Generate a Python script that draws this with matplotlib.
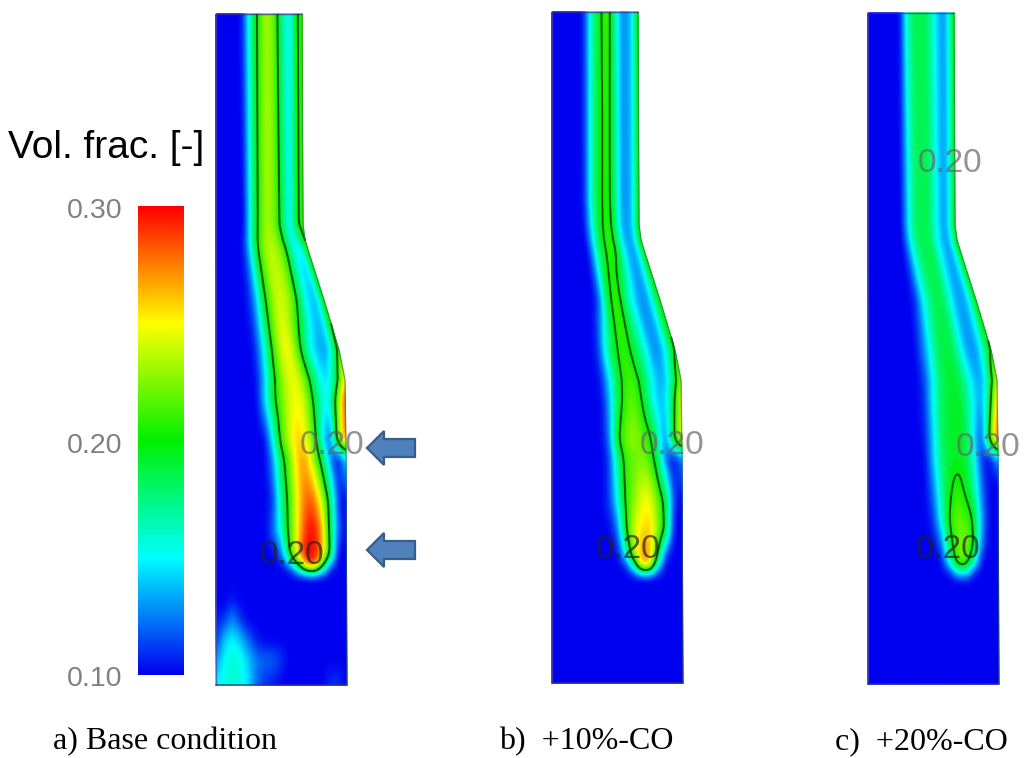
import numpy as np
import matplotlib
matplotlib.use('Agg')
import matplotlib.pyplot as plt
from matplotlib.colors import LinearSegmentedColormap
from matplotlib.patches import FancyArrow, Rectangle

# outline of the duct: (row, right wall offset from left wall), same for all cases
wall_y = [0, 225, 240, 250, 275, 300, 350, 380, 450, 700]
wall_w = [86, 87, 89, 92, 100, 108, 123, 129, 130, 131]

# vol. fraction in %, rows along the duct, 17 columns across the local width
a_y = [14, 225, 250, 300, 350, 400, 440, 458, 500, 530, 555, 568, 576, 600, 620, 640, 660, 685]
a_vals = [
    [10, 10, 10, 10, 10, 11, 15, 18.5, 21, 23, 23, 21.5, 18, 15.5, 15.5, 20, 21],
    [10, 10, 10, 10, 10, 10, 14, 18, 21, 23, 23, 22, 19, 16, 15.5, 20, 21],
    [10, 10, 10, 10, 10, 11, 15, 19, 22, 23.5, 23.5, 23, 21, 17, 15, 15, 20.5],
    [10, 10, 10, 10, 10, 11, 14, 19, 22, 24, 24, 23, 20, 16, 14, 14, 20.5],
    [10, 10, 10, 10, 10, 10.5, 14, 19, 23, 25, 24, 20, 16, 14, 13, 15, 22],
    [10, 10, 10, 10, 10, 10, 14, 19, 22, 24, 25, 24, 20, 16, 15, 22, 29],
    [10, 10, 10, 10, 10, 10, 10, 15, 21, 24, 26, 25, 22, 16, 11, 22, 28],
    [10, 10, 10, 10, 10, 10, 10, 13, 19, 22, 26, 27, 23, 19, 13, 10, 15],
    [10, 10, 10, 10, 10, 10, 10, 11, 17, 21, 25, 28, 28, 24, 19, 11, 10],
    [10, 10, 10, 10, 10, 10, 10, 12, 16, 21, 25, 29, 30, 27, 19, 12, 10],
    [10, 10, 10, 10, 10, 10, 10, 10, 12, 20, 26, 30, 30, 27, 20, 10, 10],
    [10, 10, 10, 10, 10, 10, 10, 10, 10, 11, 17, 26, 29, 20, 11, 10, 10],
    [10, 10, 10, 10, 10, 10, 10, 10, 10, 10, 10, 10, 10, 10, 10, 10, 10],
    [10, 10, 10.5, 10, 10, 10, 10, 10, 10, 10, 10, 10, 10, 10, 10, 10, 10],
    [10.5, 11, 13, 11, 10, 10, 10, 10, 10, 10, 10, 10, 10, 10, 10, 10, 10],
    [11, 14, 15, 14, 12, 10.5, 10, 10, 10, 10, 10, 10, 10, 10, 10, 10, 10],
    [13, 15, 16, 15.5, 14, 12.5, 12, 12, 11, 10, 10, 10, 10, 10, 10, 10, 10],
    [15, 15.5, 16, 15.5, 14.5, 12, 11, 10.5, 10, 10, 10, 10, 10, 10, 11, 11, 10],
]

b_y = [12, 120, 200, 250, 300, 350, 400, 440, 458, 500, 530, 555, 568, 576, 683]
b_vals = [
    [10, 10, 10, 10, 10, 10, 11, 15, 18, 19.6, 21.5, 19.6, 16, 13, 13, 15, 20.5],
    [10, 10, 10, 10, 10, 10, 11, 15, 18, 19.6, 21, 19.6, 16, 13, 13, 15, 20.5],
    [10, 10, 10, 10, 10, 10, 11, 15, 18, 19.8, 20.8, 19.7, 16, 13, 13, 15, 20.5],
    [10, 10, 10, 10, 10, 10, 10, 13, 17, 19.5, 20.9, 20.6, 17, 14, 13, 15, 20.5],
    [10, 10, 10, 10, 10, 10, 10, 12, 18, 20.8, 20.8, 17, 15, 13, 13, 16, 20.5],
    [10, 10, 10, 10, 10, 10, 11, 16, 19, 21, 20.5, 18, 16, 13, 13, 16, 21],
    [10, 10, 10, 10, 10, 10, 10, 13, 18, 21, 22, 20.5, 17, 14, 14, 19, 25],
    [10, 10, 10, 10, 10, 10, 10, 12, 19.5, 22, 23, 22, 21, 17, 12, 20, 25],
    [10, 10, 10, 10, 10, 10, 10, 11, 17, 21, 22, 22.5, 21.5, 18.5, 12, 10, 13],
    [10, 10, 10, 10, 10, 10, 10, 11, 15, 20.5, 22.5, 24.5, 25, 22, 19, 11, 10],
    [10, 10, 10, 10, 10, 10, 10, 10, 12, 19.5, 24, 25.5, 26, 23, 19.5, 10, 10],
    [10, 10, 10, 10, 10, 10, 10, 10, 10, 15, 23, 27, 27, 20, 11, 10, 10],
    [10, 10, 10, 10, 10, 10, 10, 10, 10, 10, 15, 26, 26, 14, 10, 10, 10],
    [10, 10, 10, 10, 10, 10, 10, 10, 10, 10, 10, 10, 10, 10, 10, 10, 10],
    [10, 10, 10, 10, 10, 10, 10, 10, 10, 10, 10, 10, 10, 10, 10, 10, 10],
]

c_y = [13, 230, 300, 350, 400, 440, 458, 485, 520, 545, 562, 572, 580, 684]
c_vals = [
    [10, 10, 10, 10, 10, 10, 10.5, 15, 17.5, 18.5, 18.5, 18, 16, 14, 13, 15, 20.5],
    [10, 10, 10, 10, 10, 10, 10, 13, 16.5, 18, 18.5, 18.5, 16.5, 14.5, 13, 15, 20.5],
    [10, 10, 10, 10, 10, 10, 10, 11, 14.5, 17, 18.5, 18.5, 16, 13.5, 13, 15, 20.5],
    [10, 10, 10, 10, 10, 10, 10, 12, 15, 18, 19, 18.5, 15.5, 13, 13, 16, 21],
    [10, 10, 10, 10, 10, 10, 10, 11, 15, 18, 19, 19.5, 18, 15, 13, 18, 27],
    [10, 10, 10, 10, 10, 10, 10, 10.5, 14, 18, 19, 19.5, 19, 15, 11, 21, 29],
    [10, 10, 10, 10, 10, 10, 10, 10, 14, 17.5, 19, 19.5, 19, 16, 11, 10, 14],
    [10, 10, 10, 10, 10, 10, 10, 10, 12.5, 17, 19.5, 20.8, 19.5, 17, 12, 10, 10],
    [10, 10, 10, 10, 10, 10, 10, 10, 11, 15.5, 20.5, 22, 21.5, 20, 13, 10, 10],
    [10, 10, 10, 10, 10, 10, 10, 10, 10, 12, 19, 22, 22.5, 20.5, 12, 10, 10],
    [10, 10, 10, 10, 10, 10, 10, 10, 10, 10, 16, 22, 22, 17, 10, 10, 10],
    [10, 10, 10, 10, 10, 10, 10, 10, 10, 10, 10.5, 16, 17, 11, 10, 10, 10],
    [10, 10, 10, 10, 10, 10, 10, 10, 10, 10, 10, 10, 10, 10, 10, 10, 10],
    [10, 10, 10, 10, 10, 10, 10, 10, 10, 10, 10, 10, 10, 10, 10, 10, 10],
]

cbar_ticks = [0.30, 0.20, 0.10]
captions = ['a) Base condition', 'b)  +10%-CO', 'c)  +20%-CO']
contour_label = '0.20'

cmap = LinearSegmentedColormap.from_list('cfd', ['#0000f0', '#00ffff', '#00f000', '#ffff00', '#ff0000'])


def blur(f, n, axis):
    # moving average, edges kept by repeating the last value
    pad = [(0, 0), (0, 0)]
    pad[axis] = (n, n)
    g = np.pad(f, pad, mode='edge')
    k = np.ones(2 * n + 1) / (2 * n + 1)
    return np.apply_along_axis(lambda r: np.convolve(r, k, mode='valid'), axis, g)


def draw_case(ax, left, rows, vals):
    vals = np.array(vals, dtype=float) / 100.0
    s_c = np.linspace(0, 1, vals.shape[1])
    y = np.arange(rows[0], rows[-1] + 1.0, 1.0)
    s = np.linspace(0, 1, 129)
    f = np.stack([np.interp(y, rows, vals[:, j]) for j in range(vals.shape[1])], axis=1)
    f = np.stack([np.interp(s, s_c, r) for r in f])
    for i in range(2):
        f = blur(f, 3, 1)
        f = blur(f, 6, 0)
    w = np.interp(y, wall_y, wall_w)
    X = left + np.outer(w, s)
    Y = np.outer(y, np.ones_like(s))
    ax.pcolormesh(X, Y, f, cmap=cmap, vmin=0.10, vmax=0.30, shading='gouraud', zorder=2)
    ax.contour(X, Y, f, levels=[0.20], colors='#0b5a12', linewidths=1.4, zorder=3)
    # thin soft border of the domain
    ax.plot(X[:, 0], y, color='#4a4aa8', lw=1.0, alpha=0.7, zorder=3)
    ax.plot(X[0], Y[0], color='#30309a', lw=1.0, alpha=0.7, zorder=3)
    ax.plot(X[-1], Y[-1], color='#30309a', lw=1.2, alpha=0.8, zorder=3)
    ax.plot(X[:, -1], y, color='#2f6f40', lw=0.9, alpha=0.6, zorder=3)


fig = plt.figure(figsize=(10.25, 7.58), dpi=100)
ax = fig.add_axes([0, 0, 1, 1])
ax.set_xlim(0, 1025)
ax.set_ylim(758, 0)
ax.axis('off')

draw_case(ax, 216, a_y, a_vals)
draw_case(ax, 552, b_y, b_vals)
draw_case(ax, 868, c_y, c_vals)

# colour bar
grad = np.linspace(0.30, 0.10, 256).reshape(-1, 1)
ax.imshow(grad, cmap=cmap, vmin=0.10, vmax=0.30, extent=(138, 184, 675, 206), aspect='auto', zorder=2)
ax.set_xlim(0, 1025)
ax.set_ylim(758, 0)
for v, yy in zip(cbar_ticks, [211, 446, 679]):
    ax.text(122, yy, f'{v:.2f}', ha='right', va='center', fontsize=20.5, color='#808080',
            family='Liberation Sans')

ax.text(8, 148, 'Vol. frac. [-]', ha='left', va='center', fontsize=28, color='black',
        family='Liberation Sans')

# contour labels
lab_pos = [(332, 445, '#666666'), (292, 555, '#222222'), (672, 446, '#666666'), (628, 550, '#222222'),
           (950, 163, '#666666'), (988, 447, '#666666'), (948, 550, '#222222')]
for i, (xx, yy, col) in enumerate(lab_pos):
    t = ax.text(xx, yy, contour_label, ha='center', va='center', fontsize=24, color=col, alpha=0.7,
                family='Liberation Sans', zorder=5)
    if i == 2:
        t.set_clip_path(Rectangle((630, 420), 73, 50, transform=ax.transData))
        t.set_clip_on(True)

# arrows
for yy in [448, 550]:
    ax.add_patch(FancyArrow(415, yy, -48, 0, width=18, head_width=34, head_length=17,
                            length_includes_head=True, facecolor='#4f81bd', edgecolor='#385d8a',
                            linewidth=1.6, zorder=6))

for xx, cap in zip([53, 499, 835], captions):
    ax.text(xx, 742, cap, ha='left', va='center', fontsize=23, color='black', family='Liberation Serif')

fig.savefig('out.png', dpi=100)
